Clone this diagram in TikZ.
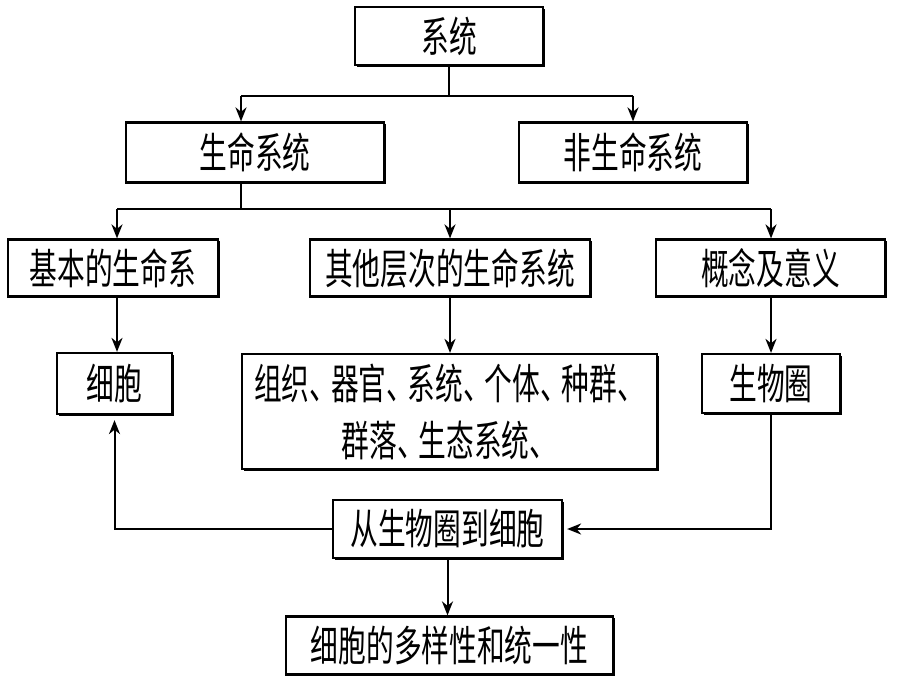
\documentclass[tikz,border=0pt]{standalone}
\usepackage{fontspec}
\newfontfamily\cjk[FakeStretch=0.66]{Noto Sans CJK SC}
\usetikzlibrary{arrows.meta,shadows,calc}
\begin{document}
\begin{tikzpicture}[x=0.5pt,y=-0.5pt,
  box/.style={draw,fill=white,line width=1.1pt,inner sep=0pt,
    font=\cjk\fontsize{21pt}{28.5pt}\selectfont,
    drop shadow={shadow xshift=0.8pt,shadow yshift=-0.8pt,fill=black,opacity=1}},
  conn/.style={line width=1pt},
  arr/.style={conn,-{Stealth[length=7pt,width=5.5pt,inset=2.2pt]}}]
\path[use as bounding box,fill=white] (0,0) rectangle (920,690);
% nodes
\node[box,minimum width=94pt,minimum height=29pt] (sys) at (449,36) {系统};
\node[box,minimum width=129pt,minimum height=30pt] (life) at (255,152.5) {生命系统\hspace{13pt}};
\node[box,minimum width=114pt,minimum height=30pt] (nonlife) at (633,152.5) {非生命系统};
\node[box,minimum width=105pt,minimum height=28.5pt] (basic) at (113,268) {基本的生命系};
\node[box,minimum width=140pt,minimum height=28.5pt] (other) at (450,268) {其他层次的生命系统};
\node[box,minimum width=114.5pt,minimum height=28.5pt] (concept) at (770.5,268) {概念及意义};
\node[box,minimum width=57.5pt,minimum height=30.5pt] (cell) at (114.5,383.5) {细胞};
\node[box,minimum width=207.5pt,minimum height=57.5pt,align=center] (tissue) at (449.5,411.5)
  {组织、\hspace{-0.15em}器官、\hspace{-0.15em}系统、\hspace{-0.15em}个体、\hspace{-0.15em}种群、\hspace{-0.15em}\\群落、\hspace{-0.15em}生态系统、\hspace{-0.15em}};
\node[box,minimum width=69pt,minimum height=29.5pt] (bio) at (771,383.5) {生物圈\hspace{18pt}};
\node[box,minimum width=114.5pt,minimum height=29pt] (from) at (447.5,529) {从生物圈到细胞};
\node[box,minimum width=163.5pt,minimum height=29pt] (div) at (449.5,645.5) {细胞的多样性和统一性};
% junctions
\coordinate (ja) at (241,96);
\coordinate (jb) at (633,96);
\coordinate (jc) at (241,209);
\coordinate (jl) at (117,209);
\coordinate (jm) at (450,209);
\coordinate (jr) at (771,209);
% connectors
\draw[conn] (sys.south) -- (sys.south |- ja);
\draw[conn] (ja) -- (jb);
\draw[arr] (ja) -- (ja |- life.north);
\draw[arr] (jb) -- (jb |- nonlife.north);
\draw[conn] (ja |- life.south) -- (jc);
\draw[conn] (jl) -- (jr);
\draw[arr] (jl) -- (jl |- basic.north);
\draw[arr] (jm) -- (jm |- other.north);
\draw[arr] (jr) -- (jr |- concept.north);
\draw[arr] (jl |- basic.south) -- (jl |- cell.north);
\draw[arr] (jm |- other.south) -- (jm |- tissue.north);
\draw[arr] (jr |- concept.south) -- (jr |- bio.north);
\draw[arr] (jr |- bio.south) |- ([xshift=2pt]from.east);
\draw[arr] (from.west) -| ([yshift=-2.5pt]cell.south);
\draw[arr] (from.south) -- (from.south |- div.north);
\end{tikzpicture}
\end{document}
